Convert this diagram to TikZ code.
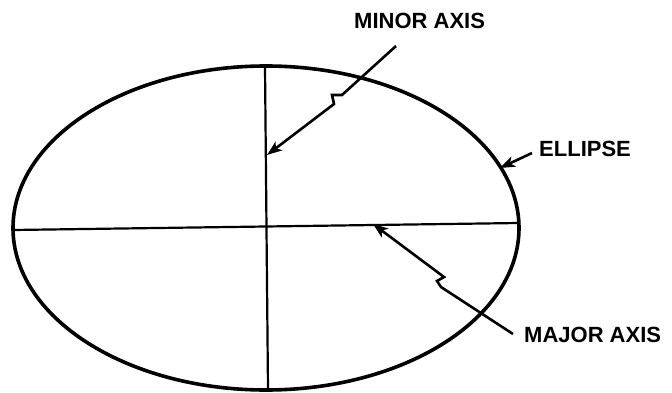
\documentclass[tikz,border=0pt]{standalone}
\usepackage{fontspec}
\setmainfont{Liberation Sans}
\usetikzlibrary{arrows.meta}
\begin{document}
\begin{tikzpicture}[x=1pt,y=-1pt,
  lbl/.style={font=\fontsize{22}{24}\selectfont\bfseries, inner sep=0pt, anchor=west},
  curve/.style={line width=3.6pt},
  axisline/.style={line width=2.2pt},
  leader/.style={line width=2.6pt, line join=miter, -{Stealth[length=15pt,width=11pt,inset=4pt]}}]
\useasboundingbox (0,0) rectangle (672,393);
% ellipse and axes
\draw[curve] (266,228) ellipse [x radius=253, y radius=162];
\coordinate (mjL) at (13,230);
\coordinate (mjR) at (519,223);
\coordinate (mnT) at (265,67);
\coordinate (mnB) at (268,390);
\draw[axisline] (mjL) -- (mjR);
\draw[axisline] (mnT) -- (mnB);
% labels
\node[lbl] (minor) at (354,21) {MINOR AXIS};
\node[lbl] (ell) at (539,149) {ELLIPSE};
\node[lbl] (major) at (524,335) {MAJOR AXIS};
% leader points
\coordinate (minS) at (396,46);
\coordinate (minTip) at (267,155);
\coordinate (ellS) at (532,153);
\coordinate (ellTip) at (500,168);
\coordinate (majS) at (513,334);
\coordinate (majTip) at (373,224);
% leaders
\draw[leader] (minS) -- (342,95) -- (332,95) -- (334,104) -- (minTip);
\draw[leader] (ellS) -- (ellTip);
\draw[leader] (majS) -- (441,287) -- (437,281) -- (444,277) -- (majTip);
\end{tikzpicture}
\end{document}
